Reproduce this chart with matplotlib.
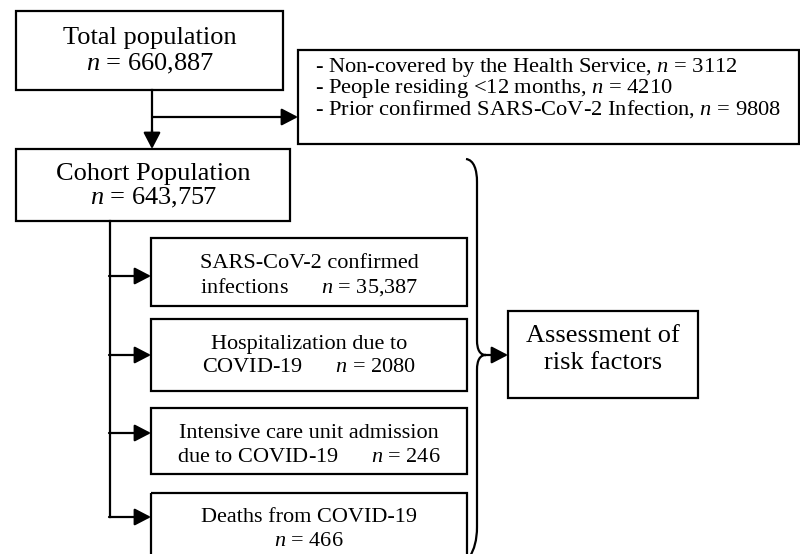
import matplotlib
matplotlib.use("Agg")
import matplotlib.pyplot as plt
from matplotlib.patches import Rectangle, PathPatch
from matplotlib.path import Path

plt.rcParams["font.family"] = ["Liberation Serif", "DejaVu Serif"]
plt.rcParams["mathtext.fontset"] = "custom"
plt.rcParams["mathtext.rm"] = "Liberation Serif"
plt.rcParams["mathtext.it"] = "Liberation Serif:italic"

# --- content of the flow chart ---
total_label = "Total population"
total_n = "660,887"
excluded_labels = ["Non-covered by the Health Service", "People residing <12 months",
                   "Prior confirmed SARS-CoV-2 Infection"]
excluded_n = ["3112", "4210", "9808"]
cohort_label = "Cohort Population"
cohort_n = "643,757"
outcome_lines = [("SARS-CoV-2 confirmed", "infections"),
                 ("Hospitalization due to", "COVID-19"),
                 ("Intensive care unit admission", "due to COVID-19"),
                 ("Deaths from COVID-19", "")]
outcome_n = ["35,387", "2080", "246", "466"]
assess_lines = ["Assessment of", "risk factors"]

W, H = 800, 554
fig = plt.figure(figsize=(W / 100, H / 100), dpi=100)
ax = fig.add_axes([0, 0, 1, 1])
ax.set_xlim(0, W)
ax.set_ylim(H, 0)
ax.axis("off")

LW = 1.6


def box(x0, y0, x1, y1):
    ax.add_patch(Rectangle((x0, y0), x1 - x0, y1 - y0, fill=False, lw=LW, ec="black"))


def arrow(x0, y0, x1, y1):
    ax.annotate("", xy=(x1, y1), xytext=(x0, y0),
                arrowprops=dict(arrowstyle="-|>,head_length=0.5,head_width=0.26",
                                lw=LW, color="black",
                                mutation_scale=20, shrinkA=0, shrinkB=0))


# total population
box(16, 11, 283, 90)
ax.text(150, 38, total_label, ha="center", va="center", fontsize=19)
ax.text(150, 64, "$n$ = " + total_n, ha="center", va="center", fontsize=19)

# exclusions
box(298, 50, 799, 144)
excl_text = "\n".join("- %s, $n$ = %s" % (l, n) for l, n in zip(excluded_labels, excluded_n))
ax.text(315, 88, excl_text, ha="left", va="center", fontsize=16.2, linespacing=0.9)

ax.plot([152, 152], [90, 135], color="black", lw=LW)
arrow(152, 130, 152, 149)
arrow(152, 117, 298, 117)

# cohort
box(16, 149, 290, 221)
ax.text(153, 174, cohort_label, ha="center", va="center", fontsize=19)
ax.text(153, 198, "$n$ = " + cohort_n, ha="center", va="center", fontsize=19)

# outcome boxes
tops = [238, 319, 408, 493]
bots = [306, 391, 474, 570]
arrow_y = [276, 355, 433, 517]
ax.plot([110, 110], [221, 517], color="black", lw=LW)
for i in range(4):
    box(151, tops[i], 467, bots[i])
    arrow(109, arrow_y[i], 151, arrow_y[i])
    l1, l2 = outcome_lines[i]
    if l2:
        second = l2 + "      $n$ = " + outcome_n[i]
    else:
        second = "$n$ = " + outcome_n[i]
    ax.text(309, tops[i] + 25, l1, ha="center", va="center", fontsize=16)
    ax.text(309, tops[i] + 49, second, ha="center", va="center", fontsize=16)

# brace
verts = [(466, 159), (474, 160), (477, 170), (477, 182),
         (477, 340),
         (477, 350), (480, 355), (486, 355),
         (480, 355), (477, 360), (477, 370),
         (477, 527),
         (477, 540), (474, 550), (470, 556)]
codes = [Path.MOVETO, Path.CURVE4, Path.CURVE4, Path.CURVE4,
         Path.LINETO,
         Path.CURVE4, Path.CURVE4, Path.CURVE4,
         Path.CURVE4, Path.CURVE4, Path.CURVE4,
         Path.LINETO,
         Path.CURVE4, Path.CURVE4, Path.CURVE4]
ax.add_patch(PathPatch(Path(verts, codes), fill=False, lw=LW, ec="black"))
arrow(485, 355, 508, 355)

# assessment
box(508, 311, 698, 398)
ax.text(603, 336, assess_lines[0], ha="center", va="center", fontsize=19)
ax.text(603, 363, assess_lines[1], ha="center", va="center", fontsize=19)

fig.savefig("out.png", dpi=100)
